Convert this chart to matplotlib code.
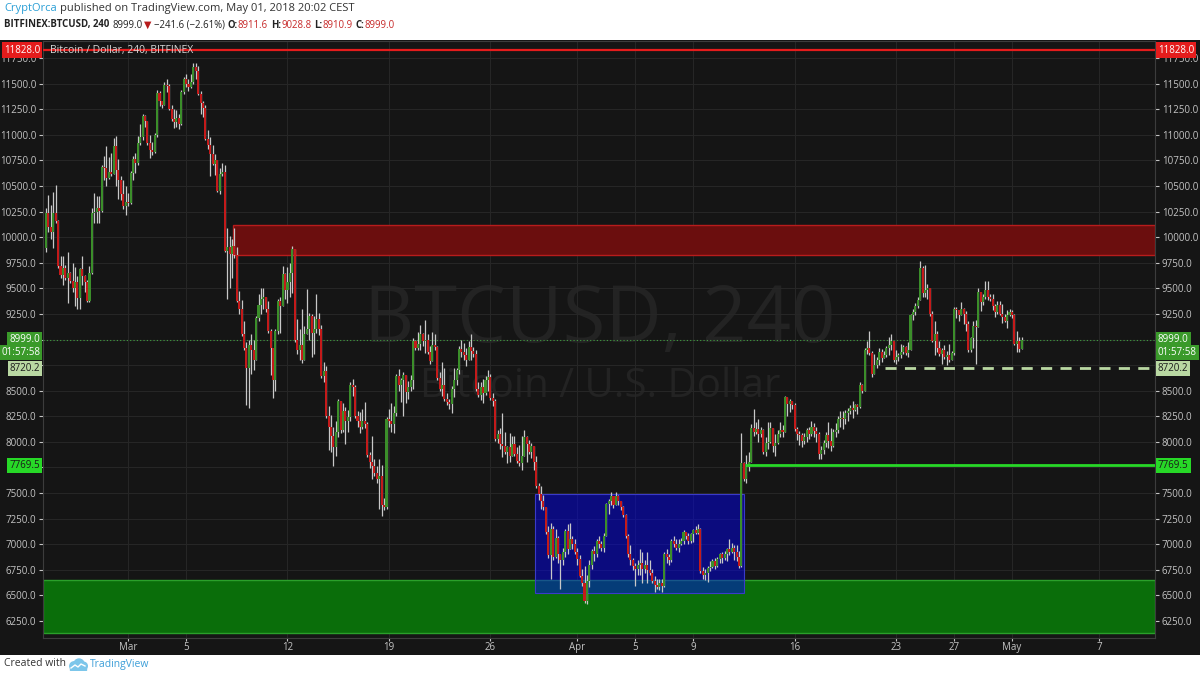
import matplotlib
matplotlib.use("Agg")
import matplotlib.pyplot as plt
import matplotlib.transforms as mtransforms
from matplotlib.patches import Rectangle, Circle
import numpy as np
import pandas as pd

plt.rcParams["font.family"] = ["Open Sans", "DejaVu Sans"]

# BITFINEX:BTCUSD 4h candles, first bar opens 2018-02-23 08:00 (open of bar n = close of bar n-1)
START = pd.Timestamp("2018-02-23 08:00")
FIRST_OPEN = 9890.0

closes = [
    10240, 10100, 10050, 10240, 10160, 9720, 9630, 9700, 9600, 9650,
    9570, 9500, 9560, 9410, 9690, 9620, 9560, 9380, 9650, 10240,
    10250, 10280, 10260, 10690, 10680, 10580, 10640, 10620, 10890, 10660,
    10560, 10420, 10300, 10340, 10330, 10630, 10760, 10720, 10920, 10980,
    11180, 11130, 10920, 10850, 10830, 11000, 11410, 11330, 11290, 11490,
    11480, 11250, 11150, 11120, 11160, 11110, 11420,
    11540, 11500, 11470, 11520, 11660, 11620, 11400, 11310, 11260, 10960,
    10900, 10810, 10710, 10750, 10450, 10620, 10640, 9860, 9900, 9840,
    9910, 9830, 9380, 9300, 9050, 8920, 8720, 8950, 8900, 8800,
    9210, 9340, 9400, 9420, 9300, 9080,
    8920, 8600, 9080, 9380, 9330, 9640, 9480, 9560, 9650, 9880, 9000,
    8900, 8950, 8800, 9050, 9100, 9230, 9060, 9100, 9200, 9100,
    8640, 8690, 8250, 8150, 8060, 7950, 8100, 8400, 8120, 8300,
    8200, 8240, 8560, 8540, 8250, 8200,
    8150, 8200, 8170, 7870, 7800, 7760, 7700, 7640, 7670, 7380, 7360, 8220,
    8200, 8170, 8280, 8640, 8560, 8600, 8650, 8490, 8540, 8600,
    8990, 8920, 8960, 9050, 8990, 9000, 8880, 8790, 8950, 8930,
    8620, 8520, 8560, 8420, 8390, 8370,
    8520, 8600, 8700, 8910, 8880, 8850, 8800, 8930, 8890, 8860,
    8520, 8460, 8540, 8480, 8600, 8630, 8430, 8400, 8030, 8080,
    7980, 7960, 7900, 7950, 7860, 7980, 7880, 7810, 7790, 7860,
    8050, 7980, 7900, 7960, 7800,
    7570, 7490, 7420, 7360, 7120, 6890, 7150, 6880, 7060, 6900,
    6850, 6920, 7130, 6950, 7050, 7000, 6920, 6860, 6690, 6620,
    6450, 6640, 6800, 6930, 6900, 7030, 7000, 6960, 7080, 7390,
    7420, 7470, 7380, 7470, 7420, 7360, 7290, 7080, 6900, 6850,
    6790, 6760, 6800,
    6820, 6760, 6800, 6750, 6720, 6640, 6600, 6580, 6620, 6590,
    6900, 6880, 6850, 7030, 7000, 6960, 7000, 7030, 7120, 7080,
    7030, 7100, 7140, 7110, 7150, 6740, 6700, 6720, 6770, 6780,
    6840, 6790, 6860, 6900, 6870, 6900, 6950, 6920, 6960, 6920,
    6880, 6790, 7790, 7640, 7750, 7800,
    8140, 8100, 8130, 8080, 8120, 7900, 7990, 8000, 8140, 7960,
    7990, 8080, 8120, 8100, 8440, 8370, 8400, 8360, 8130, 8080,
    8070, 8010, 8050, 8120, 8080, 8150, 8110, 8080, 7880, 7920,
    7990, 8070, 8010, 7960, 8100, 8120, 8220, 8230,
    8220, 8280, 8300, 8330, 8310, 8360, 8340, 8560, 8500, 8900,
    8920, 8870, 8660, 8750, 8800, 8880, 8820, 8850, 8920, 8950,
    8990, 8800, 8830, 8850, 8880, 8930, 8870, 8900, 9240, 9270,
    9330, 9390,
    9700, 9450, 9480, 9500, 9250, 8990, 9050, 8920, 8860, 8900,
    8830, 8850, 8800, 8870, 9300, 9290, 9240, 9300, 9250, 9150,
    8900, 9010, 9130, 9120, 9460, 9370, 9420, 9480, 9420, 9400,
    9330, 9270, 9340, 9250, 9220, 9180, 9240, 9270, 9240, 8960,
    8990, 8911.6, 8999.0,
]

highs = [
    10280, 10410, 10310, 10440, 10510, 10170, 9820, 9820, 9730, 9850,
    9660, 9750, 9710, 9620, 9700, 9820, 9630, 9580, 9720, 10280,
    10430, 10400, 10400, 10700, 10790, 10890, 10780, 10820, 10970, 10990,
    10760, 10600, 10560, 10500, 10430, 10650, 10790, 10820, 10990, 11110,
    11200, 11190, 11120, 11000, 10930, 11020, 11440, 11430, 11330, 11520,
    11540, 11500, 11290, 11250, 11240, 11200, 11440,
    11560, 11590, 11540, 11590, 11700, 11705, 11670, 11430, 11330, 11290,
    11050, 10980, 10900, 10810, 10740, 10680, 10720, 10700, 10090, 10010,
    9980, 10090, 9900, 9470, 9390, 9180, 8980, 9000, 9050, 9000,
    9230, 9440, 9500, 9500, 9420, 9380,
    9100, 8800, 9100, 9400, 9420, 9720, 9650, 9710, 9750, 9910, 9860,
    9200, 9100, 9300, 9130, 9490, 9260, 9250, 9230, 9440, 9260,
    9140, 8780, 8740, 8350, 8260, 8150, 8200, 8420, 8400, 8380,
    8340, 8310, 8580, 8610, 8560, 8300,
    8290, 8320, 8390, 8190, 7900, 8060, 7830, 7760, 7830, 7770, 7450, 8240,
    8320, 8380, 8350, 8660, 8710, 8620, 8680, 8640, 8590, 8650,
    9010, 9000, 9070, 9140, 9060, 9190, 9050, 8940, 9070, 9050,
    8940, 8680, 8780, 8720, 8480, 8420,
    8550, 8720, 8720, 8940, 9000, 8970, 8920, 8990, 9050, 8930,
    8900, 8580, 8580, 8610, 8640, 8700, 8660, 8480, 8420, 8120,
    8140, 8280, 8100, 7960, 8090, 8060, 8060, 7950, 7970, 8060,
    8120, 8060, 8020, 7990, 7960,
    7860, 7600, 7570, 7480, 7360, 7180, 7210, 7180, 7150, 7080,
    6880, 6960, 7150, 7200, 7210, 7080, 7050, 6960, 6890, 6760,
    6790, 6700, 6850, 6950, 6980, 7050, 7080, 7030, 7110, 7400,
    7440, 7510, 7460, 7510, 7480, 7420, 7370, 7300, 7100, 6990,
    6870, 6820, 6850,
    6950, 6920, 6850, 6920, 6850, 6760, 6690, 6660, 6660, 6660,
    6920, 6950, 6900, 7050, 7080, 7050, 7050, 7060, 7140, 7120,
    7110, 7110, 7150, 7180, 7200, 7160, 6780, 6760, 6790, 6840,
    6860, 6870, 6880, 6910, 6920, 6930, 6960, 7050, 7010, 6990,
    6990, 6930, 8090, 7800, 7870, 7900,
    8170, 8320, 8190, 8220, 8150, 8130, 8050, 8190, 8190, 8130,
    8080, 8120, 8190, 8160, 8450, 8420, 8420, 8390, 8380, 8150,
    8110, 8090, 8090, 8140, 8150, 8200, 8180, 8150, 8100, 7960,
    8020, 8100, 8190, 8140, 8130, 8180, 8250, 8300,
    8300, 8310, 8330, 8360, 8400, 8370, 8370, 8580, 8570, 8920,
    8990, 9080, 8890, 8860, 8830, 8920, 8910, 8890, 8940, 9020,
    9050, 8990, 8900, 8870, 8960, 8950, 8940, 8980, 9250, 9300,
    9360, 9420,
    9770, 9720, 9730, 9540, 9440, 9280, 9180, 9080, 8990, 8920,
    8950, 8890, 8960, 8890, 9320, 9320, 9280, 9370, 9310, 9280,
    9180, 9020, 9180, 9190, 9500, 9450, 9440, 9570, 9570, 9440,
    9440, 9350, 9380, 9380, 9350, 9250, 9290, 9300, 9290, 9250,
    9080, 9020, 9028.8,
]

lows = [
    9850, 10050, 9980, 9890, 10140, 9700, 9600, 9530, 9580, 9360,
    9550, 9460, 9330, 9300, 9300, 9530, 9460, 9370, 9370, 9640,
    10140, 10140, 10140, 10250, 10560, 10500, 10570, 10600, 10620, 10500,
    10370, 10360, 10270, 10220, 10300, 10320, 10560, 10630, 10700, 10900,
    10950, 11080, 10900, 10770, 10800, 10820, 10980, 11280, 11260, 11290,
    11420, 11240, 11130, 11070, 11080, 11060, 11100,
    11400, 11470, 11430, 11460, 11500, 11540, 11390, 11200, 11170, 10950,
    10860, 10600, 10700, 10610, 10440, 10420, 10600, 9850, 9400, 9500,
    9600, 9800, 9370, 9245, 9030, 8900, 8360, 8330, 8660, 8700,
    8800, 9180, 9250, 9300, 9270, 9060,
    8650, 8430, 8500, 9050, 9060, 9330, 9400, 9360, 9420, 9450, 8980,
    8860, 8800, 8770, 8950, 9060, 9000, 8830, 8860, 9060, 9040,
    8620, 8580, 8230, 7920, 7900, 7760, 7860, 8050, 8090, 8100,
    7980, 8100, 8200, 8450, 8230, 8150,
    8090, 8130, 8140, 7850, 7740, 7640, 7670, 7600, 7340, 7280, 7330, 7340,
    8150, 8100, 8090, 8250, 8500, 8390, 8250, 8380, 8420, 8500,
    8520, 8900, 8900, 8900, 8940, 8870, 8860, 8760, 8870, 8900,
    8600, 8500, 8450, 8400, 8360, 8320,
    8280, 8440, 8560, 8660, 8830, 8800, 8740, 8850, 8800, 8830,
    8500, 8440, 8410, 8380, 8460, 8500, 8410, 8350, 8010, 7990,
    7930, 7850, 7880, 7790, 7800, 7900, 7860, 7790, 7760, 7730,
    7860, 7800, 7880, 7840, 7730,
    7550, 7430, 7340, 7330, 7100, 6870, 6660, 6850, 6870, 6820,
    6560, 6800, 6880, 6900, 6950, 6950, 6900, 6800, 6680, 6590,
    6430, 6420, 6580, 6760, 6840, 6880, 6960, 6930, 6920, 7080,
    7300, 7380, 7350, 7400, 7380, 7330, 7270, 7060, 6880, 6800,
    6750, 6590, 6700,
    6700, 6620, 6720, 6620, 6700, 6620, 6530, 6560, 6550, 6530,
    6580, 6820, 6800, 6830, 6970, 6940, 6920, 6990, 7000, 7050,
    7000, 7010, 7020, 7100, 7100, 6720, 6660, 6650, 6630, 6740,
    6770, 6760, 6780, 6820, 6820, 6850, 6840, 6890, 6910, 6850,
    6840, 6770, 6780, 7620, 7600, 7720,
    7890, 8060, 8080, 8000, 8050, 7880, 7860, 7930, 7990, 7900,
    7860, 7980, 8050, 8050, 8100, 8250, 8290, 8320, 8110, 8020,
    7970, 7950, 7980, 8000, 8030, 8060, 8050, 8000, 7830, 7830,
    7880, 7950, 7940, 7910, 7950, 8050, 8090, 8150,
    8130, 8170, 8200, 8270, 8230, 8300, 8270, 8330, 8480, 8540,
    8860, 8850, 8630, 8690, 8720, 8750, 8780, 8830, 8830, 8850,
    8900, 8780, 8760, 8790, 8820, 8860, 8850, 8830, 8930, 9190,
    9240, 9310,
    9450, 9420, 9420, 9400, 9230, 8980, 8850, 8880, 8840, 8760,
    8810, 8750, 8780, 8850, 8850, 9210, 9180, 9240, 9150, 9080,
    8880, 8880, 8920, 8760, 9200, 9280, 9340, 9400, 9390, 9380,
    9290, 9220, 9250, 9240, 9160, 9170, 9110, 9230, 9210, 8950,
    8880, 8880, 8910.9,
]

# drawn levels and zones
top_line = 11828.0
last_price = 8999.0
countdown = "01:57:58"
resist_low, resist_high, resist_from = 9826, 10118, "2018-03-08 06:00"
support_low, support_high = 6133, 6651
box_low, box_high = 6524, 7490
box_from, box_to = "2018-03-29 02:00", "2018-04-12 13:00"
green_level, green_from = 7769.5, "2018-04-12 14:00"
dash_level, dash_from = 8720.2, "2018-04-22 06:00"

tick_dates = ["2018-03-01", "2018-03-05", "2018-03-12", "2018-03-19", "2018-03-26",
              "2018-04-01", "2018-04-05", "2018-04-09", "2018-04-16", "2018-04-23",
              "2018-04-27", "2018-05-01", "2018-05-07"]
tick_labels = ["Mar", "5", "12", "19", "26", "Apr", "5", "9", "16", "23", "27", "May", "7"]
# axis labels that sit under the price tags in the reference
hidden_ticks = [9000, 8750, 7750]


def pos(ts):
    return (pd.Timestamp(ts) - START) / pd.Timedelta(hours=4)


BG = "#151515"
GRID = "#262626"
TXT = "#c4c4c4"
UP = "#3b8e2a"
DOWN = "#c41a1a"
WICK = "#c8c8c8"

W, H = 1200, 677
fig = plt.figure(figsize=(12, 6.77), dpi=100)
fig.patch.set_facecolor("white")


def fx(px):
    return px / W


def fy(py):
    return 1 - py / H


fig.patches.append(Rectangle((0, fy(655)), 1, fy(40) - fy(655), transform=fig.transFigure,
                             facecolor=BG, edgecolor="none", zorder=-10))

ax = fig.add_axes([fx(43), fy(638), fx(1155) - fx(43), fy(41) - fy(638)])
ax.set_facecolor(BG)
x_left, x_right = pos("2018-02-23 03:00"), pos("2018-05-10 21:00")
ax.set_xlim(x_left, x_right)
ax.set_ylim(6084, 11916)

# candles
c = np.array(closes, float)
o = np.r_[FIRST_OPEN, c[:-1]]
h = np.maximum(np.array(highs, float), np.maximum(o, c))
l = np.minimum(np.array(lows, float), np.minimum(o, c))
idx = np.arange(len(c))
up = c >= o
ax.vlines(idx, l, h, color=WICK, lw=0.9, zorder=4)
ax.bar(idx[up], c[up] - o[up], bottom=o[up], width=0.85, color=UP, linewidth=0, zorder=5)
ax.bar(idx[~up], o[~up] - c[~up], bottom=c[~up], width=0.85, color=DOWN, linewidth=0, zorder=5)

# zones and lines
ax.add_patch(Rectangle((x_left, support_low), x_right - x_left, support_high - support_low,
                       facecolor="#0a6e0a", edgecolor="#2aa02a", lw=1, zorder=1))
ax.add_patch(Rectangle((pos(box_from), box_low), pos(box_to) - pos(box_from), box_high - box_low,
                       facecolor="#0000ff", alpha=0.45, edgecolor="none", zorder=2))
ax.add_patch(Rectangle((pos(box_from), box_low), pos(box_to) - pos(box_from), box_high - box_low,
                       facecolor="none", edgecolor="#3a3ac8", lw=0.8, zorder=2))
ax.add_patch(Rectangle((pos(resist_from), resist_low), x_right - pos(resist_from),
                       resist_high - resist_low, facecolor="#6b0e0e", edgecolor="#b81c1c",
                       lw=1, zorder=2))
ax.axhline(top_line, color="#e51c1c", lw=1.6, zorder=6)
ax.axhline(last_price, color="#3fa03f", lw=0.8, ls=(0, (1, 2)), zorder=3)
ax.hlines(green_level, pos(green_from), x_right, color="#27d827", lw=2, zorder=6)
ax.hlines(dash_level, pos(dash_from), x_right, color="#b9d8a2", lw=2, ls=(0, (4, 3)), zorder=6)

# watermark
ax.text(0.501, 0.53, "BTCUSD, 240", transform=ax.transAxes, ha="center", va="center",
        fontsize=56, color="#232323", zorder=0.5)
ax.text(0.501, 0.421, "Bitcoin / U.S. Dollar", transform=ax.transAxes, ha="center",
        va="center", fontsize=29, color="#232323", zorder=0.5)
ax.text(0.006, 0.994, "Bitcoin / Dollar, 240, BITFINEX", transform=ax.transAxes,
        ha="left", va="top", fontsize=7.5, color="#d8d8d8", zorder=7)

# axes styling
yt = np.arange(6250, 11751, 250)
ax.set_yticks(yt)
ax.set_yticklabels(["" if v in hidden_ticks else f"{v:.1f}" for v in yt])
ax.tick_params(axis="y", left=True, right=True, labelleft=True, labelright=True,
               colors=TXT, labelsize=7, length=3, pad=2)
ax.set_xticks([pos(d) for d in tick_dates])
ax.set_xticklabels(tick_labels)
ax.tick_params(axis="x", colors=TXT, labelsize=7, length=2, pad=1)
ax.grid(color=GRID, lw=0.8, zorder=0)
ax.set_axisbelow(True)
for s in ax.spines.values():
    s.set_color("#3c3c3c")


def price_tag(y, text, fc, tc, dy=0):
    for xa, ha in ((1.0, "left"), (0.0, "right")):
        tr = mtransforms.offset_copy(ax.get_yaxis_transform(), fig=fig,
                                     x=(2 if ha == "left" else -2), y=dy, units="points")
        ax.text(xa, y, text, transform=tr, ha=ha, va="center", fontsize=7, color=tc,
                bbox=dict(boxstyle="square,pad=0.22", fc=fc, ec="none"), clip_on=False, zorder=10)


price_tag(top_line, f"{top_line:.1f}", "#e51c1c", "white")
price_tag(last_price, f"{last_price:.1f}", "#3a9a2a", "white")
price_tag(last_price, countdown, "#3a9a2a", "white", dy=-9.5)
price_tag(dash_level, f"{dash_level:.1f}", "#b9d8a2", "#1a1a1a")
price_tag(green_level, f"{green_level:.1f}", "#27d827", "#1a1a1a")

# header and footer
renderer = fig.canvas.get_renderer()


def text_run(x_px, y_px, parts, size):
    x = fx(x_px)
    for s, col, weight, gap in parts:
        t = fig.text(x, fy(y_px), s, color=col, fontsize=size, fontweight=weight,
                     ha="left", va="center")
        x += t.get_window_extent(renderer).width / W + fx(gap)


DARK = "#222222"
RED = "#c62828"
text_run(4, 9, [("CryptOrca", "#2a9fd6", "normal", 3),
                ("published on TradingView.com, May 01, 2018 20:02 CEST", "#333333", "normal", 0)], 8)
text_run(4, 25, [("BITFINEX:BTCUSD, 240", DARK, "bold", 3), ("8999.0", DARK, "normal", 2),
                 ("\u25bc", "#b71c1c", "normal", 2), ("\u2212241.6 (\u22122.61%)", DARK, "normal", 3),
                 ("O:", DARK, "bold", 0), ("8911.6", RED, "normal", 3),
                 ("H:", DARK, "bold", 0), ("9028.8", RED, "normal", 3),
                 ("L:", DARK, "bold", 0), ("8910.9", RED, "normal", 3),
                 ("C:", DARK, "bold", 0), ("8999.0", RED, "normal", 0)], 6.9)

text_run(4, 664, [("Created with", "#333333", "normal", 0)], 7.5)
logo = fig.add_axes([fx(68), fy(671), fx(20), 13 / H])
logo.set_xlim(0, 20)
logo.set_ylim(0, 13)
logo.set_aspect("equal")
logo.axis("off")
for cx, cy, r in ((6, 5, 4.2), (11, 7, 5), (15.5, 5, 3.8)):
    logo.add_patch(Circle((cx, cy), r, color="#7cc6ea"))
logo.add_patch(Rectangle((2, 1), 16, 4, color="#7cc6ea"))
logo.plot([3, 7, 10, 13, 17], [3, 6, 4, 7, 5], color="white", lw=1)
text_run(90, 664, [("TradingView", "#3d9fd8", "normal", 0)], 7.5)

fig.savefig("out.png", dpi=100, facecolor=fig.get_facecolor())
